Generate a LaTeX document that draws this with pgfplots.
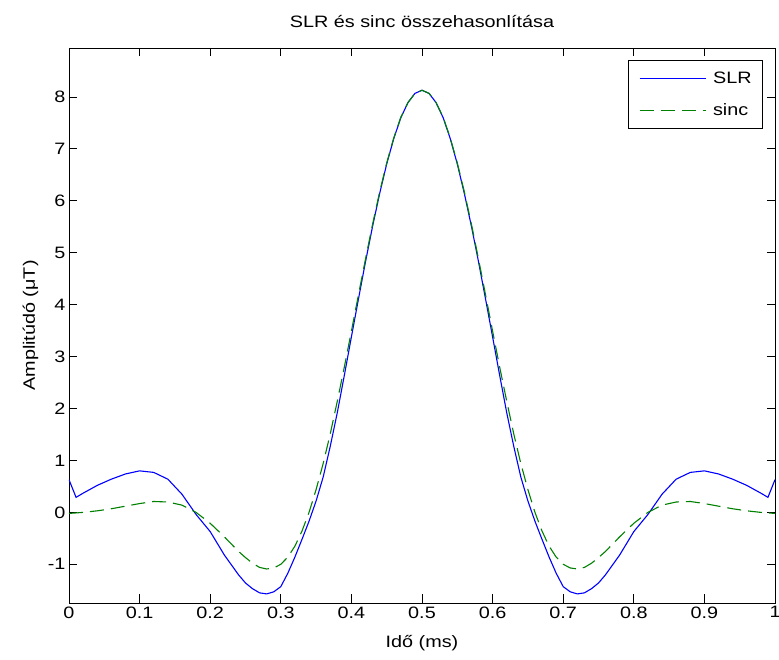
\documentclass[border=0pt]{standalone}
\usepackage{fontspec}
\setmainfont{Liberation Sans}[FakeStretch=1.2]
\usepackage{pgfplots}
\usepackage{pgfplotstable}
\pgfplotsset{compat=1.18}
\definecolor{mblue}{rgb}{0,0,1}
\definecolor{mgreen}{rgb}{0,0.5,0}

\pgfplotstableread{
x slr sinc
0.00 0.63 -0.02
0.01 0.29 -0.01
0.02 0.37 0.00
0.04 0.52 0.03
0.06 0.64 0.07
0.08 0.74 0.12
0.10 0.80 0.17
0.12 0.77 0.21
0.14 0.64 0.20
0.16 0.35 0.14
0.18 -0.04 0.00
0.20 -0.37 -0.21
0.22 -0.82 -0.47
0.24 -1.20 -0.75
0.25 -1.36 -0.87
0.26 -1.47 -0.98
0.27 -1.55 -1.06
0.28 -1.57 -1.09
0.29 -1.53 -1.07
0.30 -1.43 -1.00
0.31 -1.17 -0.86
0.32 -0.86 -0.65
0.33 -0.52 -0.36
0.34 -0.17 0.00
0.35 0.22 0.44
0.36 0.68 0.94
0.37 1.27 1.51
0.38 1.92 2.14
0.39 2.64 2.80
0.40 3.38 3.49
0.41 4.11 4.19
0.42 4.83 4.88
0.43 5.51 5.55
0.44 6.14 6.17
0.45 6.71 6.73
0.46 7.20 7.21
0.47 7.60 7.61
0.48 7.89 7.89
0.49 8.07 8.07
0.50 8.13 8.13
0.51 8.07 8.07
0.52 7.89 7.89
0.53 7.60 7.61
0.54 7.20 7.21
0.55 6.71 6.73
0.56 6.14 6.17
0.57 5.51 5.55
0.58 4.83 4.88
0.59 4.11 4.19
0.60 3.38 3.49
0.61 2.64 2.80
0.62 1.92 2.14
0.63 1.27 1.51
0.64 0.68 0.94
0.65 0.22 0.44
0.66 -0.17 0.00
0.67 -0.52 -0.36
0.68 -0.86 -0.65
0.69 -1.17 -0.86
0.70 -1.43 -1.00
0.71 -1.53 -1.07
0.72 -1.57 -1.09
0.73 -1.55 -1.06
0.74 -1.47 -0.98
0.75 -1.36 -0.87
0.76 -1.20 -0.75
0.78 -0.82 -0.47
0.80 -0.37 -0.21
0.82 -0.04 0.00
0.84 0.35 0.14
0.86 0.64 0.20
0.88 0.77 0.21
0.90 0.80 0.17
0.92 0.74 0.12
0.94 0.64 0.07
0.96 0.52 0.03
0.98 0.37 0.00
0.99 0.29 -0.01
1.00 0.63 -0.02
}\pulses

\begin{document}
\begin{tikzpicture}[font=\fontsize{16.5}{19}\selectfont]
\begin{axis}[
  scale only axis, width=706pt, height=555pt,
  xmin=0, xmax=1, ymin=-1.745, ymax=8.944,
  xtick={0,0.1,...,1}, ytick={-1,0,...,8},
  tick pos=both, tick align=inside, major tick length=8.5pt,
  axis line style={line width=0.9pt}, tick style={line width=0.9pt, black},
  /pgf/number format/assume math mode=true,
  title={SLR és sinc összehasonlítása},
  title style={at={(axis description cs:0.5,1.027)}, anchor=base},
  xlabel={Idő (ms)},
  xlabel style={at={(axis description cs:0.5,-0.0793)}, anchor=base},
  ylabel={Amplitúdó (μT)},
  ylabel style={at={(axis description cs:-0.0482,0.5)}, anchor=base},
  legend style={at={(0.983,0.978)}, anchor=north east, draw=black, line width=0.8pt,
    fill=white, inner xsep=11pt, inner ysep=10.5pt, row sep=17pt, column sep=7pt,
    nodes={inner sep=0pt, text height=12pt, text depth=3pt}},
  legend cell align=left,
  legend image code/.code={\draw[#1] (0pt,0pt) -- (66pt,0pt);},
]
\addplot[mblue, line width=1.1pt] table[x=x, y=slr] {\pulses};
\addplot[mgreen, line width=1.1pt, dash pattern=on 14pt off 7pt] table[x=x, y=sinc] {\pulses};
\legend{SLR, sinc}
\end{axis}
\pgfresetboundingbox
\path ([shift={(-69pt,-57pt)}]current axis.south west) rectangle ([shift={(4pt,48pt)}]current axis.north east);
\end{tikzpicture}
\end{document}
